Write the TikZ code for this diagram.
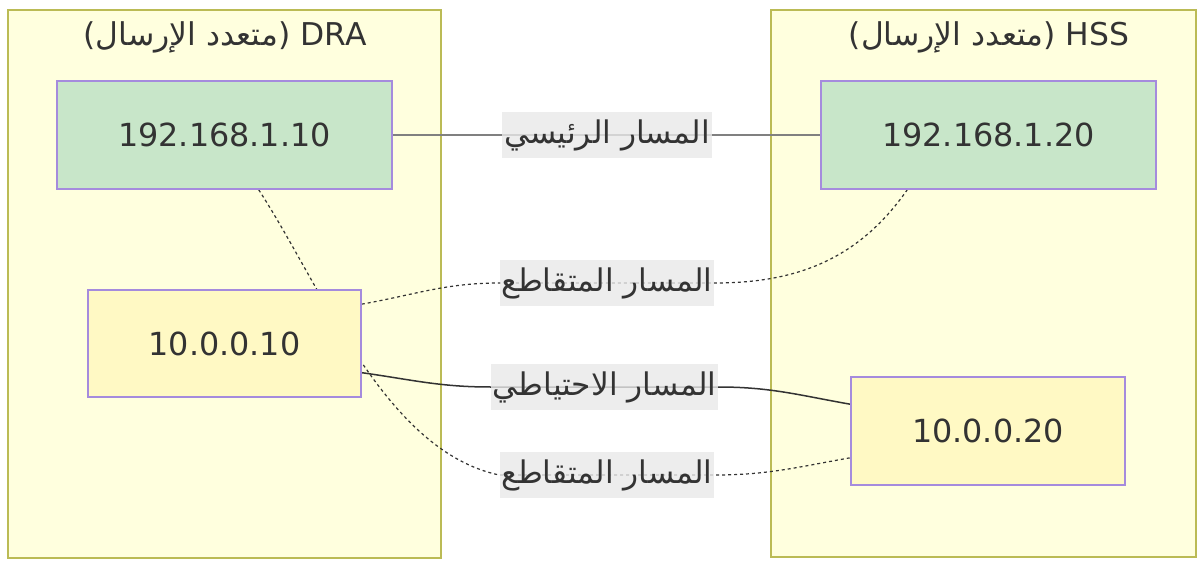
\documentclass[tikz,border=0pt]{standalone}
\usepackage{fontspec}
\setmainfont{DejaVu Sans}
\newfontfamily\arabicfont[Script=Arabic]{DejaVu Sans}
\TeXXeTstate=1
\definecolor{clusterfill}{HTML}{FFFFDE}
\definecolor{clusterline}{HTML}{BBBB55}
\definecolor{nodeline}{HTML}{A58BDD}
\definecolor{mainfill}{HTML}{C8E6C9}
\definecolor{backupfill}{HTML}{FFF9C4}
\definecolor{labelfill}{HTML}{E8E8E8}
\definecolor{textgray}{HTML}{333333}
\pgfdeclarelayer{back}
\pgfdeclarelayer{links}
\pgfsetlayers{back,links,main}
\tikzset{
  cluster/.style={draw=clusterline, fill=clusterfill, line width=0.8pt},
  title/.style={text=textgray, font=\fontsize{15.7}{18}\selectfont},
  host/.style={draw=nodeline, line width=0.8pt, minimum width=167.5pt, minimum height=54pt,
    text=textgray, font=\fontsize{15.9}{19}\selectfont},
  pathlabel/.style={fill=labelfill, fill opacity=0.8, text opacity=1, text=textgray,
    font=\arabicfont\fontsize{15.6}{18}\selectfont, inner xsep=1pt, minimum height=23pt},
  solidlink/.style={draw=textgray, line width=0.75pt},
  dottedlink/.style={draw=textgray, line width=0.6pt, dash pattern=on 1.5pt off 1.5pt},
}
\begin{document}
\begin{tikzpicture}[x=0.5pt, y=-0.5pt]
\useasboundingbox (0,0) rectangle (1204,561);

% clusters
\begin{pgfonlayer}{back}
\node[cluster, minimum width=216.5pt, minimum height=274pt] (dra) at (224.5,284) {};
\node[cluster, minimum width=212.5pt, minimum height=273.5pt] (hss) at (983.5,283.5) {};
\end{pgfonlayer}
\node[title] (draTitle) at (225,37) {({\arabicfont\beginR متعدد الإرسال\endR}) DRA};
\node[title] (hssTitle) at (989,37) {({\arabicfont\beginR متعدد الإرسال\endR}) HSS};

% hosts
\node[host, fill=mainfill] (draMain) at (224.5,135) {192.168.1.10};
\node[host, fill=backupfill, minimum width=136.5pt, minimum height=53.5pt] (draBackup) at (224.5,343.5) {10.0.0.10};
\node[host, fill=mainfill] (hssMain) at (988.5,135) {192.168.1.20};
\node[host, fill=backupfill, minimum width=137pt] (hssBackup) at (988,431) {10.0.0.20};

% path labels
\node[pathlabel] (lblMain) at (607,135) {\beginR المسار الرئيسي\endR};
\node[pathlabel] (lblCrossA) at (607,283) {\beginR المسار المتقاطع\endR};
\node[pathlabel] (lblBackup) at (604.5,387) {\beginR المسار الاحتياطي\endR};
\node[pathlabel] (lblCrossB) at (607,475) {\beginR المسار المتقاطع\endR};

% links
\begin{pgfonlayer}{links}
\draw[solidlink, draw=gray] (draMain.east) -- (hssMain.west);
\draw[dottedlink] (draBackup.16) to[out=10, in=180] (lblCrossA.west) -- (lblCrossA.east)
  to[out=0, in=235] (hssMain.214.5);
\draw[solidlink] (draBackup.-12) to[out=-8, in=180] (lblBackup.west) -- (lblBackup.east)
  to[out=0, in=170] (hssBackup.169);
\draw[dottedlink] (draMain.-58) to[out=-57, in=168, looseness=0.8] (lblCrossB.west) -- (lblCrossB.east)
  to[out=0, in=190] (hssBackup.191);
\end{pgfonlayer}
\end{tikzpicture}
\end{document}
